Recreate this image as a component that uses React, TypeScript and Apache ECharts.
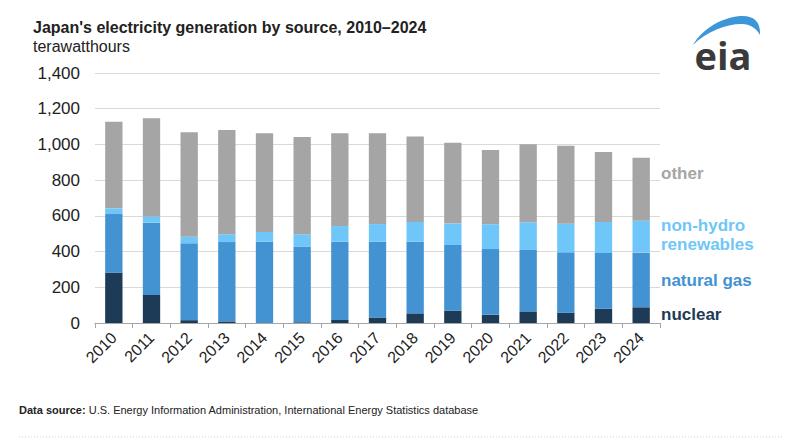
import React, { useEffect, useRef } from "react";
import * as echarts from "echarts";

const years = ["2010","2011","2012","2013","2014","2015","2016","2017","2018","2019","2020","2021","2022","2023","2024"];
const nuclear = [282, 157, 16, 9, 0, 4, 17, 31, 54, 69, 47, 65, 58, 80, 88];
const naturalGas = [328, 405, 430, 444, 455, 425, 438, 424, 401, 368, 367, 344, 338, 312, 306];
const nonHydro = [32, 35, 37, 44, 55, 68, 88, 99, 111, 121, 139, 155, 160, 174, 179];
const other = [485, 550, 585, 584, 552, 545, 519, 508, 478, 452, 416, 437, 437, 392, 353];
const yTicks = [0, 200, 400, 600, 800, 1000, 1200, 1400];

const FONT = "'Liberation Sans', Arial, Helvetica, sans-serif";
const C_NUC = "#1d3a56";
const C_GAS = "#4393d3";
const C_NH = "#6fc6f8";
const C_OTH = "#a5a5a5";

echarts.graphic.registerShape(
  "eiaSwoosh",
  echarts.graphic.extendPath(
    "M693,45 C701,31 719,18 740,16 C753,15 761,21 760,35 C756,28 750,24 742,24 C725,24 706,32 693,45 Z",
    {}
  )
);

export default function App() {
  const ref = useRef<HTMLDivElement>(null);
  useEffect(() => {
    if (!ref.current) return;
    const chart = echarts.init(ref.current, undefined, { renderer: "svg" });
    const mk = (name: string, data: number[], color: string) => ({
      name,
      type: "bar",
      stack: "total",
      data,
      barWidth: "46%",
      itemStyle: { color },
      emphasis: { disabled: true },
    });
    chart.setOption({
      animation: false,
      textStyle: { fontFamily: FONT },
      grid: { left: 95, right: 140, top: 73, bottom: 122 },
      xAxis: {
        type: "category",
        data: years,
        axisLine: { lineStyle: { color: "#a6a6a6", width: 1 } },
        axisTick: { show: true, length: 5, lineStyle: { color: "#a6a6a6" } },
        axisLabel: { rotate: 45, fontSize: 16, color: "#222", margin: 12, fontFamily: FONT },
      },
      yAxis: {
        type: "value",
        min: 0,
        max: 1400,
        interval: 200,
        axisLine: { show: false },
        axisTick: { show: false },
        splitLine: { lineStyle: { color: "#d9d9d9", width: 1 } },
        axisLabel: {
          fontSize: 17,
          color: "#222",
          margin: 15,
          fontFamily: FONT,
          formatter: (v: number) => (yTicks.includes(v) ? v.toLocaleString("en-US") : ""),
        },
      },
      series: [
        mk("nuclear", nuclear, C_NUC),
        mk("natural gas", naturalGas, C_GAS),
        mk("non-hydro renewables", nonHydro, C_NH),
        mk("other", other, C_OTH),
      ],
      graphic: [
        {
          type: "text",
          left: 33,
          top: 19,
          style: {
            text: "Japan's electricity generation by source, 2010\u20132024",
            font: `bold 16px ${FONT}`,
            fill: "#222",
          },
        },
        {
          type: "text",
          left: 33,
          top: 38,
          style: { text: "terawatthours", font: `16px ${FONT}`, fill: "#222" },
        },
        {
          type: "text",
          x: 661,
          y: 173,
          style: { text: "other", font: `bold 17px ${FONT}`, fill: C_OTH, verticalAlign: "middle" },
        },
        {
          type: "text",
          x: 661,
          y: 225,
          style: { text: "non-hydro", font: `bold 17px ${FONT}`, fill: C_NH, verticalAlign: "middle" },
        },
        {
          type: "text",
          x: 661,
          y: 244,
          style: { text: "renewables", font: `bold 17px ${FONT}`, fill: C_NH, verticalAlign: "middle" },
        },
        {
          type: "text",
          x: 661,
          y: 280,
          style: { text: "natural gas", font: `bold 17px ${FONT}`, fill: C_GAS, verticalAlign: "middle" },
        },
        {
          type: "text",
          x: 661,
          y: 314,
          style: { text: "nuclear", font: `bold 17px ${FONT}`, fill: C_NUC, verticalAlign: "middle" },
        },
        {
          type: "eiaSwoosh",
          x: 0,
          y: 0,
          style: { fill: "#3c96d8" },
        },
        {
          type: "text",
          x: 723,
          y: 55,
          style: {
            text: "eia",
            font: `bold 38px 'Open Sans', ${FONT}`,
            fill: "#3a3a3a",
            align: "center",
            verticalAlign: "middle",
          },
        },
        {
          type: "text",
          x: 19,
          y: 410,
          style: {
            text: "{b|Data source:} U.S. Energy Information Administration, International Energy Statistics database",
            font: `11px ${FONT}`,
            fill: "#222",
            verticalAlign: "middle",
            rich: {
              b: { font: `bold 11px ${FONT}`, fill: "#222" },
            },
          },
        },
        {
          type: "line",
          shape: { x1: 19, y1: 437, x2: 782, y2: 437 },
          style: { stroke: "#d0d0d0", lineWidth: 1, lineDash: [1, 2] },
        },
      ],
    });
    return () => chart.dispose();
  }, []);
  return (
    <div
      ref={ref}
      style={{ position: "fixed", left: 0, top: 0, width: 800, height: 445, background: "#fff" }}
    />
  );
}
